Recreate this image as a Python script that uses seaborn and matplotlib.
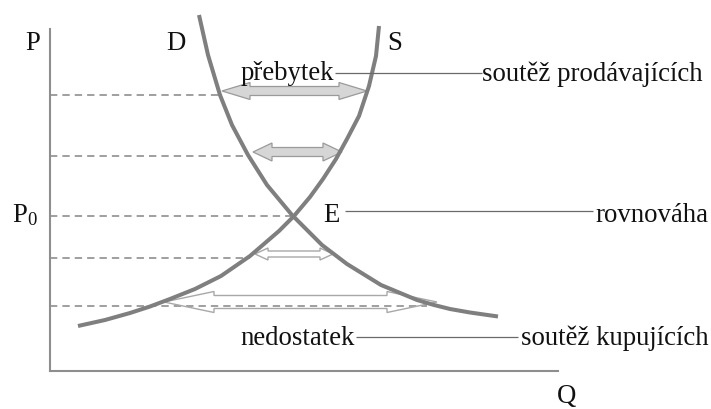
import matplotlib
matplotlib.use("Agg")
import matplotlib.pyplot as plt
from matplotlib.patches import Polygon
import seaborn as sns
import pandas as pd

# ---------------- data (Q = quantity, P = price, diagram units) ----------------
demand_q = [149, 158, 170, 182, 198, 217, 242, 272, 297, 331, 367, 384, 400, 420, 448]
demand_p = [356, 316, 276, 246, 216, 186, 156, 126, 107, 86, 71, 66, 62, 58.5, 54.5]

supply_q = [329, 326, 319, 309, 297, 286, 273, 260, 244, 229, 200, 171, 145, 120, 100, 80, 55, 28]
supply_p = [345, 315, 285, 255, 232, 212, 192, 174, 155, 140, 115, 95, 82, 72, 64.5, 58, 51, 45]

# horizontal price levels (dashed guide lines) and where they end on the Q axis
level_p = [276, 215, 155, 113, 65]
level_q_end = [170, 198, 244, 200, 377]

# surplus arrows (above P0): from Q, to Q, at price
surplus_q0 = [172, 203]
surplus_q1 = [317, 292]
surplus_p = [280, 219]

# shortage arrows (below P0)
shortage_q0 = [205, 114]
shortage_q1 = [283, 387]
shortage_p = [117, 69]

# texts
curve_labels = ["P", "D", "S", "Q"]
left_labels = ["přebytek", "E", "nedostatek"]
right_labels = ["soutěž prodávajících", "rovnováha", "soutěž kupujících"]
p0_label = r"P$_{\mathrm{0}}$"

# ---------------- style ----------------
sns.set_theme(style="white")
plt.rcParams["font.family"] = ["Liberation Serif", "DejaVu Serif"]
plt.rcParams["mathtext.fontset"] = "custom"
plt.rcParams["mathtext.rm"] = "Liberation Serif"
plt.rcParams["mathtext.it"] = "Liberation Serif:italic"

FS = 19.3
CURVE_COL = "#7f7f7f"
AX_COL = "#8e8e8e"
TXT_COL = "#111111"

fig = plt.figure(figsize=(7.11, 4.10), dpi=100)
W, H = 711, 410
ax = fig.add_axes([50 / W, (H - 372) / H, 508 / W, 342 / H])
ax.set_xlim(0, 508)
ax.set_ylim(0, 342)
for side in ["top", "right"]:
    ax.spines[side].set_visible(False)
for side in ["left", "bottom"]:
    ax.spines[side].set_color(AX_COL)
    ax.spines[side].set_linewidth(1.5)
ax.set_xticks([])
ax.set_yticks([])
ax.set_facecolor("white")

# dashed guide lines
ax.hlines(level_p, 0, level_q_end, colors="#858585", linewidth=1.1,
          linestyles=(0, (4.8, 3.3)), zorder=1, clip_on=False)


def double_arrow(q0, q1, p, hl, hh, bh, fc, ec, lw):
    verts = [(q0, p), (q0 + hl, p + hh), (q0 + hl, p + bh), (q1 - hl, p + bh),
             (q1 - hl, p + hh), (q1, p), (q1 - hl, p - hh), (q1 - hl, p - bh),
             (q0 + hl, p - bh), (q0 + hl, p - hh)]
    ax.add_patch(Polygon(verts, closed=True, facecolor=fc, edgecolor=ec,
                         linewidth=lw, zorder=2, clip_on=False))


surplus_heads = [(28, 8.5, 4.5), (19, 9, 4.5)]
for q0, q1, p, (hl, hh, bh) in zip(surplus_q0, surplus_q1, surplus_p, surplus_heads):
    double_arrow(q0, q1, p, hl, hh, bh, "#d6d6d6", "#9a9a9a", 0.9)

shortage_heads = [(13, 6, 3), (50, 10.5, 6.5)]
for q0, q1, p, (hl, hh, bh) in zip(shortage_q0, shortage_q1, shortage_p, shortage_heads):
    double_arrow(q0, q1, p, hl, hh, bh, "none", "#a8a8a8", 1.0)

# demand and supply curves
df_d = pd.DataFrame({"Q": demand_q, "P": demand_p})
df_s = pd.DataFrame({"Q": supply_q, "P": supply_p})
for df in (df_d, df_s):
    sns.lineplot(data=df, x="Q", y="P", sort=False, ax=ax, color=CURVE_COL,
                 linewidth=2.9, zorder=3, clip_on=False)
for ln in ax.get_lines():
    ln.set_solid_capstyle("butt")
    ln.set_solid_joinstyle("round")
ax.set_xlabel("")
ax.set_ylabel("")

# labels
tk = dict(fontsize=FS, color=TXT_COL, clip_on=False, zorder=5)
ax.text(-17, 322, curve_labels[0], ha="center", va="baseline", **tk)
ax.text(126, 322, curve_labels[1], ha="center", va="baseline", **tk)
ax.text(345, 322, curve_labels[2], ha="center", va="baseline", **tk)
ax.text(517, -31, curve_labels[3], ha="center", va="baseline", **tk)
ax.text(-38, 150, p0_label, ha="left", va="baseline", **tk)

ax.text(284, 292, left_labels[0], ha="right", va="baseline", **tk)
ax.text(273, 150, left_labels[1], ha="left", va="baseline", **tk)
ax.text(305, 27, left_labels[2], ha="right", va="baseline", **tk)

ax.text(432, 291, right_labels[0], ha="left", va="baseline", **tk)
ax.text(658, 150, right_labels[1], ha="right", va="baseline", **tk)
ax.text(659, 27, right_labels[2], ha="right", va="baseline", **tk)

# connector lines
conn_p = [298, 160, 34]
conn_q0 = [285, 295, 306]
conn_q1 = [432, 543, 468]
ax.hlines(conn_p, conn_q0, conn_q1, colors="#6a6a6a", linewidth=0.9,
          zorder=4, clip_on=False)

fig.savefig("out.png", dpi=100, facecolor="white")
